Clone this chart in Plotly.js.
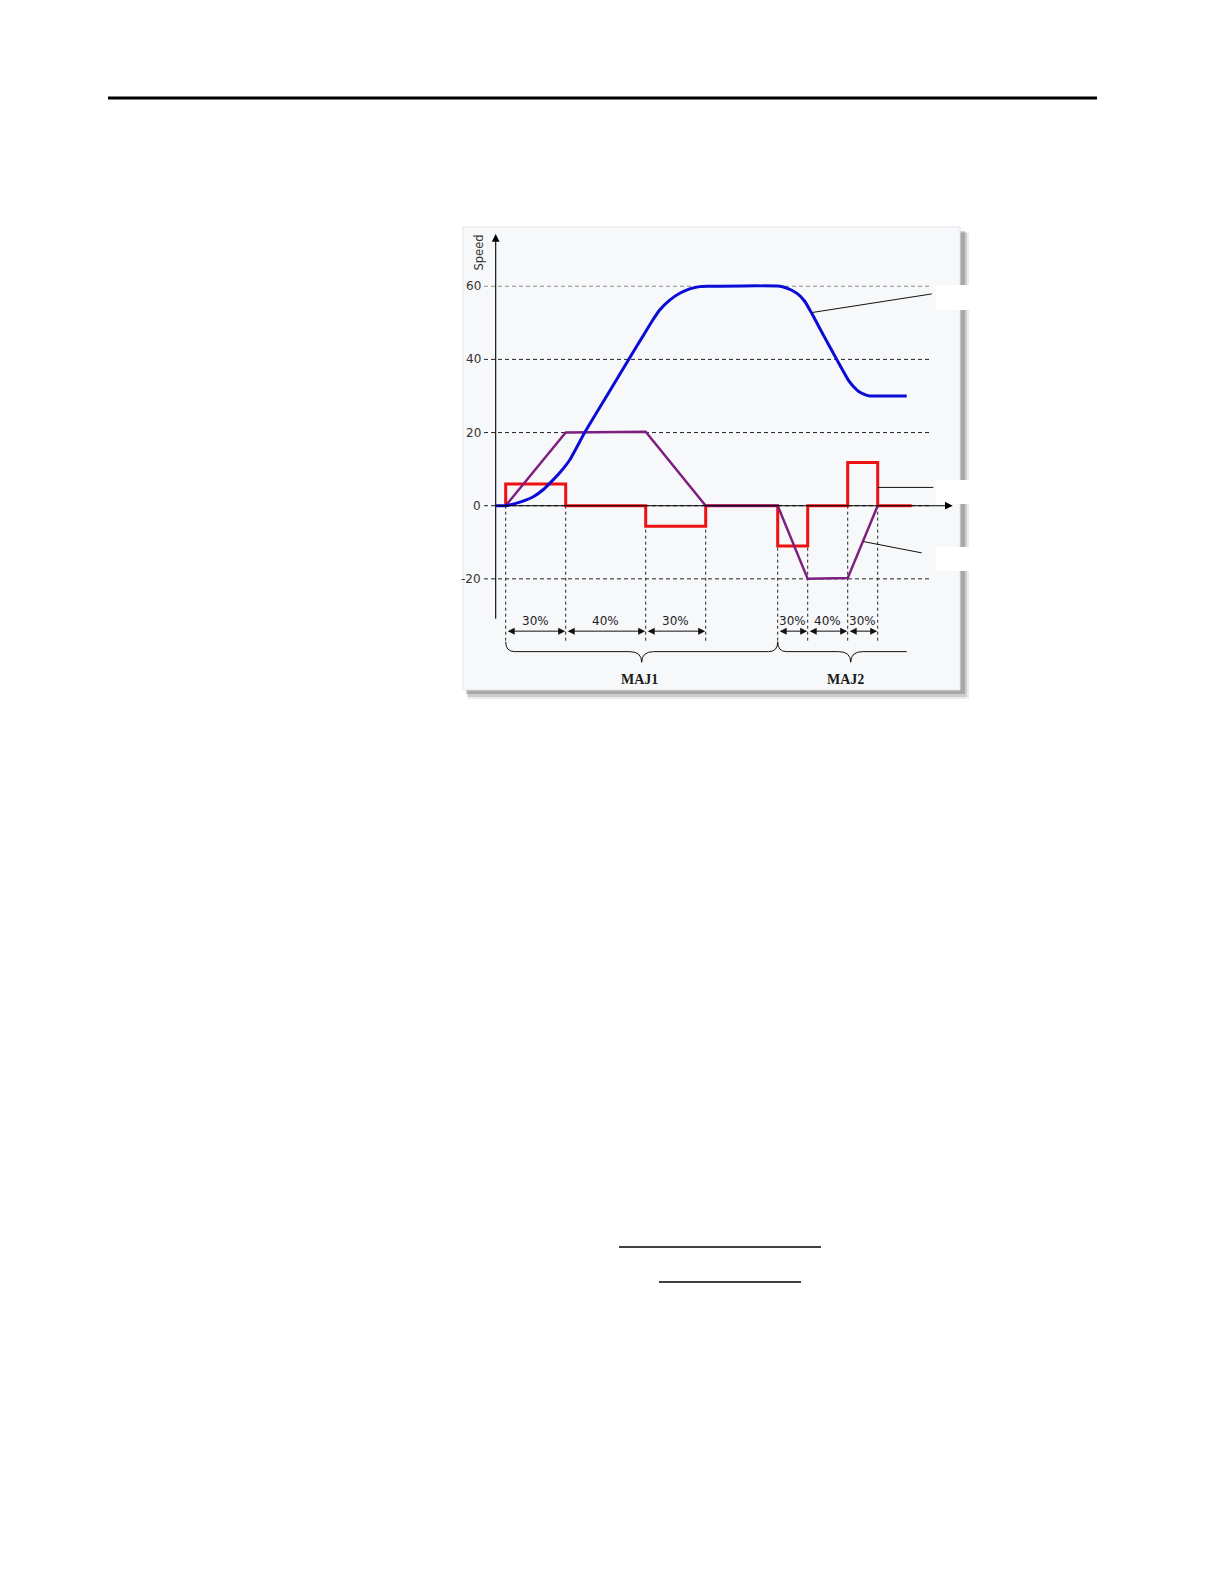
<!DOCTYPE html>
<html>
<head>
<meta charset="utf-8">
<script src="https://cdn.plot.ly/plotly-3.0.1.min.js"></script>
<style>
  html, body { margin: 0; padding: 0; background: #ffffff; }
  #chart { width: 1224px; height: 1584px; }
</style>
</head>
<body>
<div id="chart"></div>
<script>
// ---- data ----------------------------------------------------------------
const moveNames = ['MAJ1', 'MAJ2'];
const moveStart = [10, 282];
const moveDuration = [200, 100];
const phaseShare = [30, 40, 30];          // accel / constant / decel, percent
const phaseLabels = ['30%', '40%', '30%'];
const speedTicks = [-20, 0, 20, 40, 60];
const speedTickLabels = ['-20', '0', '20', '40', '60'];

// commanded speed profile (purple trapezoids)
const profileTime  = [10, 70, 150, 210, 282, 312, 352, 382];
const profileSpeed = [0, 20, 20.2, 0, 0, -20, -19.8, 0];

// acceleration steps (red)
const accelTime  = [10, 10, 70, 150, 210, 282, 312, 352, 382, 416];
const accelValue = [0, 5.9, 0, -5.6, 0, -11, 0, 11.8, 0, 0];

// resulting axis position curve (blue)
const posTime  = [0, 10, 21, 30, 38, 48, 54, 64, 74, 89, 111, 133, 148, 156, 164, 174, 184, 194, 204, 211,
                  284, 290, 296, 302, 309, 316, 328, 341, 353, 358, 363, 368, 374, 380, 411];
const posValue = [0, 0, 0.7, 1.5, 2.5, 4.5, 6.1, 9, 12.5, 20, 30, 40, 46.7, 50.3, 53.5, 56.2, 58.1, 59.3, 59.9, 60,
                  60, 59.6, 58.9, 57.9, 55.9, 52.6, 46.5, 40, 34.2, 32.5, 31.2, 30.5, 30.0, 30, 30];

// ---- layout helpers --------------------------------------------------------
const W = 1224, H = 1584;
const px = x => x / W;            // page pixel -> paper x
const py = y => 1 - y / H;        // page pixel -> paper y

const X_RANGE = [-32.7, 464.3];
const Y_RANGE = [-50.39, 76.2];

const shapes = [];
const annotations = [];

// panel with a soft drop shadow
[[468, 233, 969, 699, 0.08], [467, 232, 967, 697, 0.12], [466, 231, 965, 694, 0.18]].forEach(s => {
  shapes.push({type: 'rect', xref: 'paper', yref: 'paper', layer: 'below',
    x0: px(s[0]), y0: py(s[1]), x1: px(s[2]), y1: py(s[3]),
    fillcolor: 'rgba(0,0,0,' + s[4] + ')', line: {width: 0}});
});
shapes.push({type: 'rect', xref: 'paper', yref: 'paper', layer: 'below',
  x0: px(463), y0: py(227), x1: px(960), y1: py(690),
  fillcolor: '#f7f8fa', line: {color: '#e3e4e8', width: 1}});
// blank label boxes on the right edge
[[936, 285, 990, 310], [936, 480, 990, 504], [936, 547, 990, 571]].forEach(b => {
  shapes.push({type: 'rect', xref: 'paper', yref: 'paper', layer: 'below',
    x0: px(b[0]), y0: py(b[1]), x1: px(b[2]), y1: py(b[3]),
    fillcolor: '#ffffff', line: {width: 0}});
});

// dashed speed grid
speedTicks.forEach(v => {
  shapes.push({type: 'line', xref: 'x', yref: 'y', layer: 'below',
    x0: -11.7, x1: 434.3, y0: v, y1: v,
    line: {color: v === 60 ? '#8a8a8a' : '#222222', width: 1, dash: '4px,3px'}});
});
speedTicks.forEach((v, i) => {
  annotations.push({xref: 'x', yref: 'y', x: -13, y: v, text: speedTickLabels[i],
    showarrow: false, xanchor: 'right', yanchor: 'middle',
    font: {family: 'DejaVu Sans', size: 12, color: '#333333'}});
});
annotations.push({xref: 'x', yref: 'y', x: -16.4, y: 69.3, text: 'Speed', textangle: -90,
  showarrow: false, xanchor: 'center', yanchor: 'middle',
  font: {family: 'DejaVu Sans', size: 11.5, color: '#333333'}});

// phase boundaries, dimension arrows and percentage labels
const DIM_LINE_BOTTOM = -37.2, DIM_ARROW = -34.3, DIM_TEXT = -31.6;
moveStart.forEach((t0, m) => {
  const bounds = [t0];
  phaseShare.forEach(p => bounds.push(bounds[bounds.length - 1] + moveDuration[m] * p / 100));
  bounds.forEach(t => {
    shapes.push({type: 'line', xref: 'x', yref: 'y', layer: 'below',
      x0: t, x1: t, y0: 0, y1: DIM_LINE_BOTTOM,
      line: {color: '#222222', width: 1, dash: '3px,3px'}});
  });
  for (let k = 0; k < 3; k++) {
    annotations.push({xref: 'x', yref: 'y', axref: 'x', ayref: 'y',
      x: bounds[k + 1] - 0.5, y: DIM_ARROW, ax: bounds[k] + 0.5, ay: DIM_ARROW, text: '',
      showarrow: true, arrowside: 'end+start', arrowhead: 2, startarrowhead: 2,
      arrowsize: 1.4, startarrowsize: 1.4, arrowwidth: 1, arrowcolor: '#111111'});
    annotations.push({xref: 'x', yref: 'y', x: (bounds[k] + bounds[k + 1]) / 2, y: DIM_TEXT,
      text: phaseLabels[k], showarrow: false, xanchor: 'center', yanchor: 'middle',
      font: {family: 'DejaVu Sans', size: 12, color: '#222222'}});
  }
});

// curly braces under each move
const B_TOP = -37.2, B_LINE = -39.9, B_TIP = -42.8;
function brace(a, c, b, closed) {
  let d = `M${a},${B_TOP} Q${a},${B_LINE} ${a + 9},${B_LINE} L${c - 12},${B_LINE} ` +
          `Q${c},${B_LINE} ${c},${B_TIP} Q${c},${B_LINE} ${c + 12},${B_LINE} `;
  d += closed ? `L${b - 9},${B_LINE} Q${b},${B_LINE} ${b},${B_TOP}` : `L${b},${B_LINE}`;
  return d;
}
const braceOpenEnd = 411;
const braceEnds = [moveStart[1], 428];
shapes.push({type: 'path', xref: 'x', yref: 'y', line: {color: '#111111', width: 1},
  path: brace(moveStart[0], (moveStart[0] + braceEnds[0]) / 2, braceEnds[0], true)});
shapes.push({type: 'path', xref: 'x', yref: 'y', line: {color: '#111111', width: 1},
  path: brace(moveStart[1], (moveStart[1] + braceEnds[1]) / 2, braceOpenEnd, false)});
annotations.push({xref: 'x', yref: 'y', x: (moveStart[0] + braceEnds[0]) / 2 - 2.5, y: -47.4,
  text: moveNames[0], showarrow: false, xanchor: 'center', yanchor: 'middle',
  font: {family: 'Liberation Serif', size: 14, color: '#1a1a1a', weight: 'bold'}});
annotations.push({xref: 'x', yref: 'y', x: (moveStart[1] + braceEnds[1]) / 2 - 5.5, y: -47.4,
  text: moveNames[1], showarrow: false, xanchor: 'center', yanchor: 'middle',
  font: {family: 'Liberation Serif', size: 14, color: '#1a1a1a', weight: 'bold'}});

// leader lines towards the label boxes
[[316, 52.8, 436, 57.9], [382, 5.0, 437.6, 5.0], [367.6, -9.8, 426, -12.9]].forEach(l => {
  shapes.push({type: 'line', xref: 'x', yref: 'y', x0: l[0], y0: l[1], x1: l[2], y1: l[3],
    line: {color: '#111111', width: 1}});
});

// axes with arrow heads (drawn over the traces)
annotations.push({xref: 'x', yref: 'y', axref: 'x', ayref: 'y', x: 457, y: 0, ax: 0, ay: 0,
  text: '', showarrow: true, arrowhead: 2, arrowsize: 1.4, arrowwidth: 1.1, arrowcolor: '#000000'});
annotations.push({xref: 'x', yref: 'y', axref: 'x', ayref: 'y', x: 0, y: 74.3, ax: 0, ay: -31.3,
  text: '', showarrow: true, arrowhead: 2, arrowsize: 1.4, arrowwidth: 1.1, arrowcolor: '#000000'});

// page rules
shapes.push({type: 'line', xref: 'paper', yref: 'paper', x0: px(108), x1: px(1097), y0: py(98), y1: py(98),
  line: {color: '#000000', width: 3}});
shapes.push({type: 'line', xref: 'paper', yref: 'paper', x0: px(619), x1: px(821), y0: py(1247), y1: py(1247),
  line: {color: '#000000', width: 1.5}});
shapes.push({type: 'line', xref: 'paper', yref: 'paper', x0: px(659), x1: px(801), y0: py(1282), y1: py(1282),
  line: {color: '#000000', width: 1.5}});

// ---- traces ----------------------------------------------------------------
const traces = [
  {x: accelTime, y: accelValue, mode: 'lines', line: {color: '#ee1111', width: 3, shape: 'hv'}, hoverinfo: 'skip'},
  {x: profileTime, y: profileSpeed, mode: 'lines', line: {color: '#7d1f7f', width: 2.5}, hoverinfo: 'skip'},
  {x: posTime, y: posValue, mode: 'lines', line: {color: '#0b0bd6', width: 3, shape: 'spline', smoothing: 0.6},
   hoverinfo: 'skip'}
];

const layout = {
  width: W, height: H,
  margin: {l: 0, r: 0, t: 0, b: 0},
  paper_bgcolor: '#ffffff',
  plot_bgcolor: 'rgba(0,0,0,0)',
  showlegend: false,
  xaxis: {domain: [463 / W, 960 / W], range: X_RANGE, visible: false, fixedrange: true},
  yaxis: {domain: [1 - 690 / H, 1 - 227 / H], range: Y_RANGE, visible: false, fixedrange: true},
  shapes: shapes,
  annotations: annotations
};

Plotly.newPlot('chart', traces, layout, {displayModeBar: false, staticPlot: true});
</script>
</body>
</html>
